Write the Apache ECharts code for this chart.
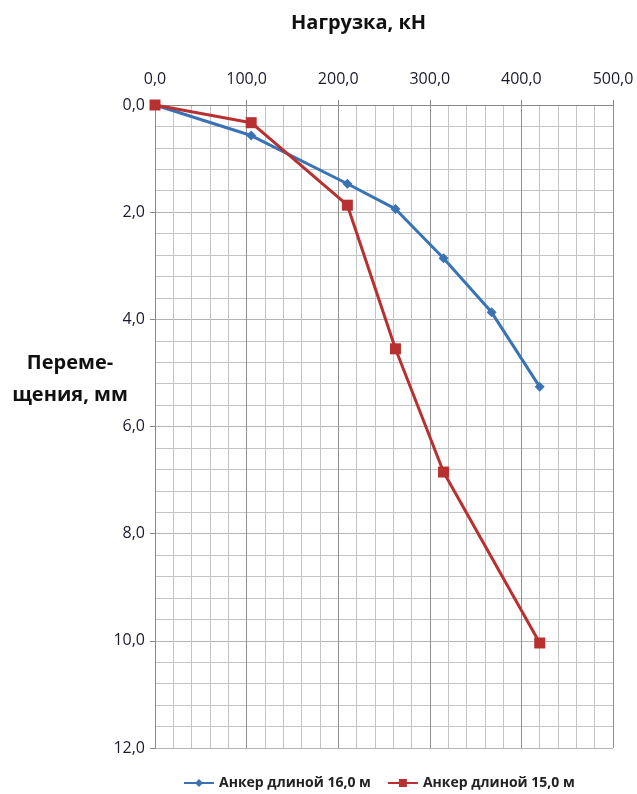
<!DOCTYPE html>
<html><head><meta charset="utf-8">
<script src="https://cdn.jsdelivr.net/npm/echarts@6/dist/echarts.min.js"></script>
<style>html,body{margin:0;padding:0;background:#fff}#c{width:637px;height:794px}</style>
</head><body><div id="c"></div>
<script>
const seriesNames = ['Анкер длиной 16,0 м', 'Анкер длиной 15,0 м'];
const loads16 = [0, 105, 210, 262.5, 315, 367.5, 420];
const disp16 = [0, 0.57, 1.47, 1.94, 2.86, 3.87, 5.26];
const loads15 = [0, 105, 210, 262.5, 315, 420];
const disp15 = [0, 0.33, 1.87, 4.55, 6.85, 10.04];
const xTitle = 'Нагрузка, кН';
const yTitle = 'Переме-\nщения, мм';

const font = '"Open Sans", "DejaVu Sans", sans-serif';
const fmt = v => v.toFixed(1).replace('.', ',');
const chart = echarts.init(document.getElementById('c'), null, {renderer: 'canvas'});
chart.setOption({
  animation: false,
  backgroundColor: '#fff',
  grid: {left: 155, right: 24, top: 105, bottom: 46, containLabel: false},
  title: [
    {text: xTitle, left: 286, top: 8, textStyle: {fontFamily: font, fontSize: 20, fontWeight: 'bold', color: '#111'}},
    {text: yTitle, left: 65, top: 342, textAlign: 'center', textStyle: {fontFamily: font, fontSize: 20, fontWeight: 'bold', color: '#111', lineHeight: 32, align: 'center'}}
  ],
  legend: {
    top: 771, left: 178, itemWidth: 30, itemHeight: 10, itemGap: 16,
    textStyle: {fontFamily: font, fontSize: 14, fontWeight: 'bold', color: '#222'},
    data: seriesNames
  },
  xAxis: {
    type: 'value', position: 'top', min: 0, max: 500, interval: 100,
    axisLine: {show: true, lineStyle: {color: '#888', width: 1}},
    axisTick: {show: true, length: 5, lineStyle: {color: '#888'}},
    axisLabel: {formatter: fmt, fontFamily: font, fontSize: 16, color: '#1a1a2e', margin: 18},
    splitLine: {show: true, lineStyle: {color: '#909090', width: 1}},
    minorTick: {show: false, splitNumber: 5},
    minorSplitLine: {show: true, lineStyle: {color: '#c4c4c4', width: 1}}
  },
  yAxis: {
    type: 'value', inverse: true, min: 0, max: 12, interval: 2,
    axisLine: {show: true, lineStyle: {color: '#888', width: 1}},
    axisTick: {show: true, length: 5, lineStyle: {color: '#888'}},
    axisLabel: {formatter: fmt, fontFamily: font, fontSize: 16, color: '#1a1a2e', margin: 10},
    splitLine: {show: true, lineStyle: {color: '#b4b4b4', width: 1}},
    minorTick: {show: false, splitNumber: 5},
    minorSplitLine: {show: true, lineStyle: {color: '#c4c4c4', width: 1}}
  },
  series: [
    {name: seriesNames[0], type: 'line', data: loads16.map((x, i) => [x, disp16[i]]),
     symbol: 'diamond', symbolSize: 10, color: '#3a73b5',
     lineStyle: {width: 3, color: '#3a73b5'}, itemStyle: {color: '#3a73b5'}, z: 3},
    {name: seriesNames[1], type: 'line', data: loads15.map((x, i) => [x, disp15[i]]),
     symbol: 'rect', symbolSize: 11, color: '#b93030',
     lineStyle: {width: 3, color: '#b93030'}, itemStyle: {color: '#b93030'}, z: 4}
  ]
});
</script></body></html>
